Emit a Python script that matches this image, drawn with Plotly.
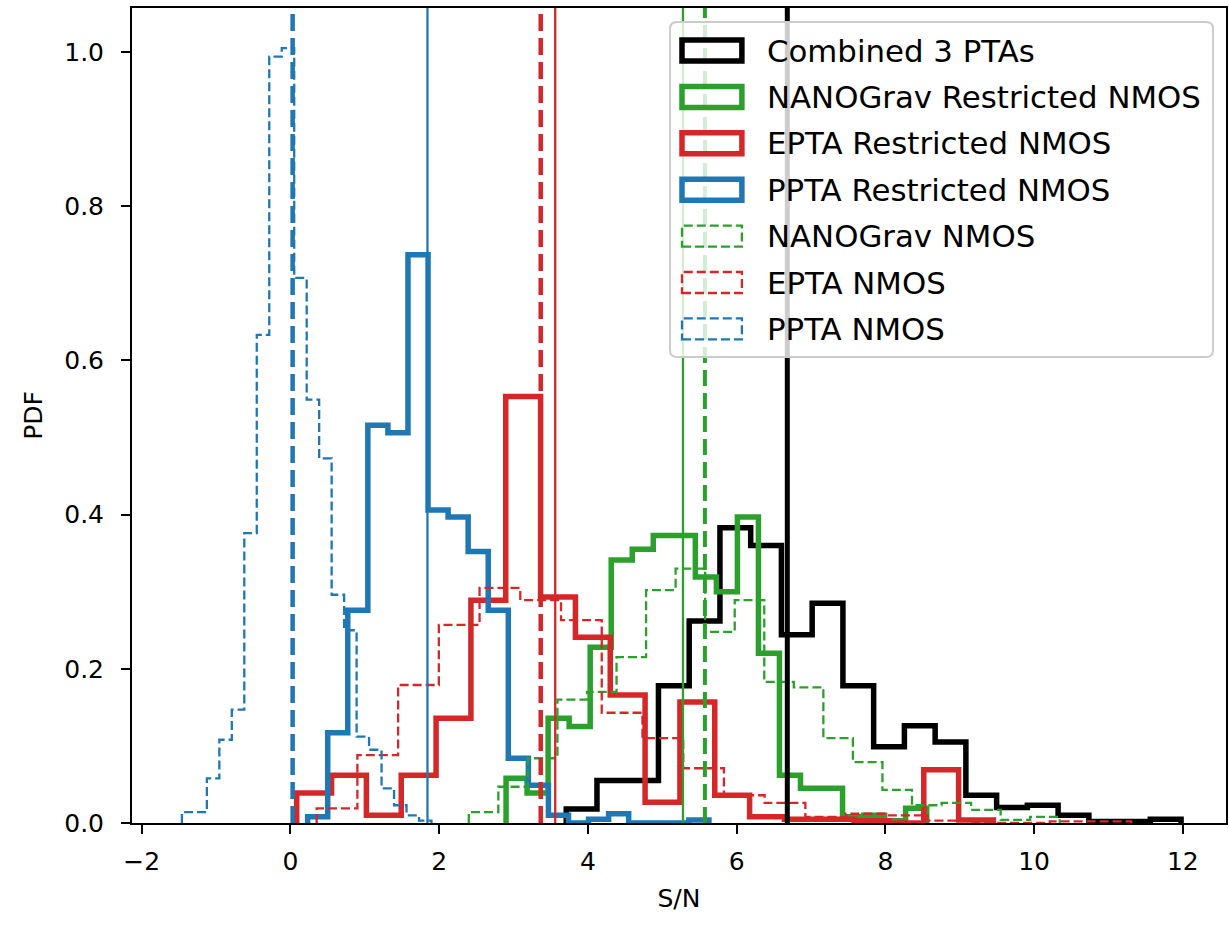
import numpy as np
import plotly.graph_objects as go

# ---------------- data ----------------
# each histogram: first bin edge, last bin edge, density per bin (20 bins)
comb_lo, comb_hi = 3.709, 11.977
comb_pdf = [0.018, 0.055, 0.055, 0.178, 0.262, 0.383, 0.360, 0.244, 0.285, 0.178,
            0.099, 0.126, 0.105, 0.036, 0.020, 0.023, 0.010, 0.002, 0.002, 0.005]

ng_r_lo, ng_r_hi = 2.900, 8.556
ng_r_pdf = [0.058, 0.039, 0.136, 0.125, 0.228, 0.341, 0.355, 0.373, 0.373, 0.319,
            0.300, 0.397, 0.220, 0.062, 0.045, 0.045, 0.008, 0.010, 0.003, 0.019]

ep_r_lo, ep_r_hi = 0.085, 9.454
ep_r_pdf = [0.039, 0.062, 0.010, 0.062, 0.136, 0.289, 0.553, 0.293, 0.241, 0.166,
            0.027, 0.157, 0.036, 0.008, 0.005, 0.005, 0.003, 0.000, 0.069, 0.004]

pp_r_lo, pp_r_hi = 0.232, 5.628
pp_r_pdf = [0.008, 0.117, 0.276, 0.516, 0.506, 0.737, 0.406, 0.397, 0.352, 0.276,
            0.084, 0.049, 0.010, 0.000, 0.005, 0.012, 0.000, 0.000, 0.000, 0.004]

ng_lo, ng_hi = 2.399, 10.345
ng_pdf = [0.014, 0.047, 0.084, 0.160, 0.170, 0.215, 0.302, 0.330, 0.248, 0.289,
          0.183, 0.176, 0.110, 0.079, 0.043, 0.023, 0.026, 0.017, 0.004, 0.008]

ep_lo, ep_hi = 0.353, 11.306
ep_pdf = [0.019, 0.088, 0.179, 0.257, 0.305, 0.289, 0.263, 0.143, 0.110, 0.071,
          0.036, 0.026, 0.008, 0.012, 0.010, 0.003, 0.000, 0.000, 0.002, 0.002]

pp_lo, pp_hi = -1.459, 1.897
pp_pdf = [0.014, 0.014, 0.058, 0.108, 0.147, 0.376, 0.633, 0.994, 1.005, 0.707,
          0.549, 0.473, 0.296, 0.250, 0.112, 0.095, 0.045, 0.023, 0.010, 0.003]

# median S/N markers
comb_med = 6.682
ng_r_med, ep_r_med, pp_r_med = 5.279, 3.561, 1.843
ng_med, ep_med, pp_med = 5.574, 3.366, 0.030

labels = ["Combined 3 PTAs", "NANOGrav Restricted NMOS", "EPTA Restricted NMOS",
          "PPTA Restricted NMOS", "NANOGrav NMOS", "EPTA NMOS", "PPTA NMOS"]
x_ticks = [-2, 0, 2, 4, 6, 8, 10, 12]
y_ticks = [0.0, 0.2, 0.4, 0.6, 0.8, 1.0]

# ---------------- styles ----------------
BLACK, GREEN, RED, BLUE = "#000000", "#2ca02c", "#d62728", "#1f77b4"
FONT = "DejaVu Sans"
W, H = 1229, 928
L, R, T, B = 132, 1228, 8, 823      # plot-area pixel box

series = [
    (labels[0], comb_lo, comb_hi, comb_pdf, BLACK, "solid"),
    (labels[1], ng_r_lo, ng_r_hi, ng_r_pdf, GREEN, "solid"),
    (labels[2], ep_r_lo, ep_r_hi, ep_r_pdf, RED, "solid"),
    (labels[3], pp_r_lo, pp_r_hi, pp_r_pdf, BLUE, "solid"),
    (labels[4], ng_lo, ng_hi, ng_pdf, GREEN, "dash"),
    (labels[5], ep_lo, ep_hi, ep_pdf, RED, "dash"),
    (labels[6], pp_lo, pp_hi, pp_pdf, BLUE, "dash"),
]

fig = go.Figure()
for name, lo, hi, pdf, col, sty in series:
    edges = np.linspace(lo, hi, len(pdf) + 1)
    xs = [edges[0]] + list(edges[:-1]) + [edges[-1]]
    ys = [0.0] + list(pdf) + [0.0]
    if sty == "solid":
        line = dict(color=col, width=5.5, shape="hv")
    else:
        line = dict(color=col, width=2.3, shape="hv", dash="9px,4px")
    fig.add_trace(go.Scatter(x=xs, y=ys, mode="lines", line=line, name=name,
                             showlegend=False, hoverinfo="skip"))

vlines = [
    (comb_med, BLACK, 5, "solid"),
    (ng_r_med, GREEN, 2.3, "solid"),
    (ep_r_med, RED, 2.3, "solid"),
    (pp_r_med, BLUE, 2.3, "solid"),
    (ng_med, GREEN, 4, "16px,7px"),
    (ep_med, RED, 4.5, "17px,7px"),
    (pp_med, BLUE, 4.5, "17px,7px"),
]
for xv, col, wd, ds in vlines:
    fig.add_trace(go.Scatter(x=[xv, xv], y=[0, 1.2], mode="lines",
                             line=dict(color=col, width=wd, dash=ds),
                             showlegend=False, hoverinfo="skip"))

# ---------------- manual matplotlib-like legend ----------------
def px2x(px):
    return (px - L) / (R - L)

def py2y(py):
    return (B - py) / (B - T)

shapes = []
bx0, by0, bx1, by1, rad = 671, 22, 1215, 357, 7
path = (f"M {px2x(bx0 + rad)},{py2y(by0)} L {px2x(bx1 - rad)},{py2y(by0)} "
        f"Q {px2x(bx1)},{py2y(by0)} {px2x(bx1)},{py2y(by0 + rad)} "
        f"L {px2x(bx1)},{py2y(by1 - rad)} Q {px2x(bx1)},{py2y(by1)} {px2x(bx1 - rad)},{py2y(by1)} "
        f"L {px2x(bx0 + rad)},{py2y(by1)} Q {px2x(bx0)},{py2y(by1)} {px2x(bx0)},{py2y(by1 - rad)} "
        f"L {px2x(bx0)},{py2y(by0 + rad)} Q {px2x(bx0)},{py2y(by0)} {px2x(bx0 + rad)},{py2y(by0)} Z")
shapes.append(dict(type="path", path=path, xref="paper", yref="paper", layer="above",
                   fillcolor="rgba(255,255,255,0.8)", line=dict(color="#cccccc", width=2)))

annotations = []
row0, dy = 50.5, 46.4
for i, (name, lo, hi, pdf, col, sty) in enumerate(series):
    cy = row0 + i * dy
    if sty == "solid":
        ln = dict(color=col, width=5.5)
    else:
        ln = dict(color=col, width=2.3, dash="9px,4px")
    shapes.append(dict(type="rect", xref="paper", yref="paper", layer="above",
                       x0=px2x(683), x1=px2x(743), y0=py2y(cy + 10.5), y1=py2y(cy - 10.5),
                       line=ln, fillcolor="rgba(0,0,0,0)"))
    annotations.append(dict(text=name, xref="paper", yref="paper", x=px2x(766), y=py2y(cy),
                            xanchor="left", yanchor="middle", showarrow=False,
                            font=dict(family=FONT, size=30.8, color="black")))

fig.update_layout(
    width=W, height=H,
    margin=dict(l=L, r=W - R, t=T, b=H - B, pad=0),
    paper_bgcolor="white", plot_bgcolor="white",
    font=dict(family=FONT, size=25, color="black"),
    shapes=shapes, annotations=annotations, showlegend=False,
    xaxis=dict(range=[-2.130, 12.581], tickvals=x_ticks, ticks="outside", ticklen=9,
               tickwidth=2, tickcolor="black", showline=True, linecolor="black",
               linewidth=2, mirror=True, showgrid=False, zeroline=False,
               ticklabelstandoff=6,
               tickfont=dict(size=25), title=dict(text="S/N", font=dict(size=25), standoff=14)),
    yaxis=dict(range=[0, 1.057], tickvals=y_ticks, tickformat=".1f", ticks="outside",
               ticklen=9, tickwidth=2, tickcolor="black", showline=True, linecolor="black",
               linewidth=2, mirror=True, showgrid=False, zeroline=False,
               ticklabelstandoff=12,
               tickfont=dict(size=25), title=dict(text="PDF", font=dict(size=25), standoff=14)),
)

fig.write_html("out.html")
